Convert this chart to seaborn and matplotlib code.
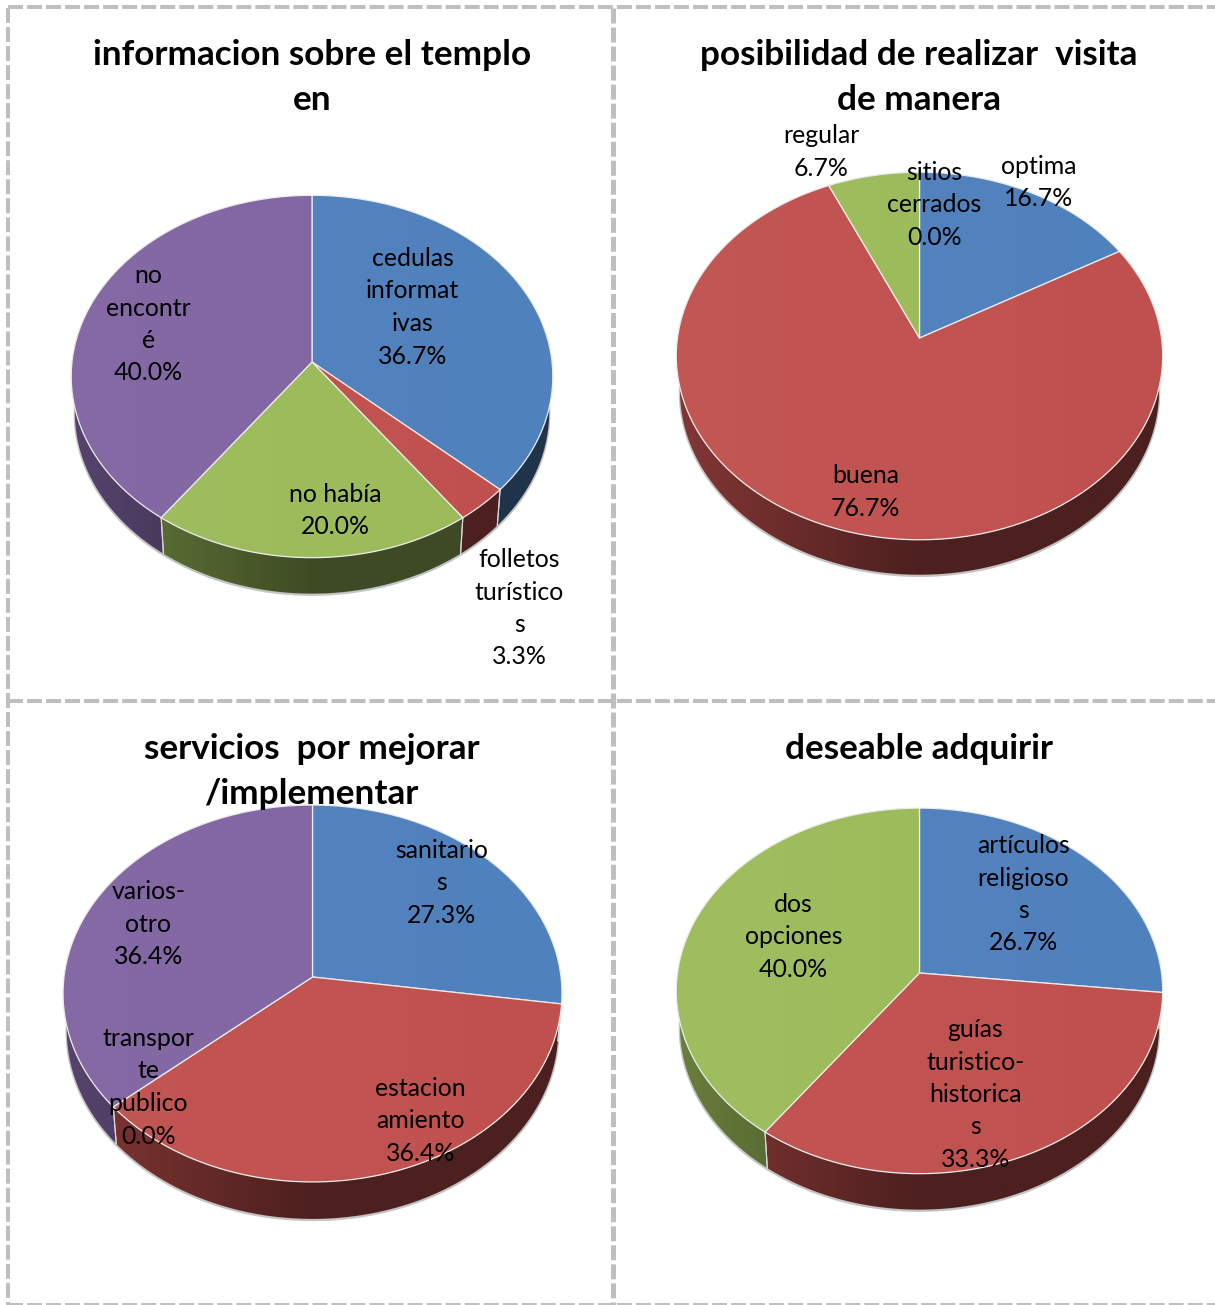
import matplotlib
matplotlib.use('Agg')
import matplotlib.pyplot as plt
import numpy as np
import seaborn as sns
from matplotlib.patches import Polygon

# values (percent, clockwise from 12 o'clock)
titles_1 = ["informacion sobre el templo", "en"]
labels_1 = ["cedulas\ninformat\nivas", "folletos\nturístico\ns", "no había", "no\nencontr\né"]
values_1 = [36.7, 3.3, 20.0, 40.0]

titles_2 = ["posibilidad de realizar  visita", "de manera"]
labels_2 = ["optima", "buena", "regular", "sitios\ncerrados"]
values_2 = [16.7, 76.7, 6.7, 0.0]

titles_3 = ["servicios  por mejorar", "/implementar"]
labels_3 = ["sanitario\ns", "estacion\namiento", "transpor\nte\npublico", "varios-\notro"]
values_3 = [27.3, 36.4, 0.0, 36.4]

titles_4 = ["deseable adquirir"]
labels_4 = ["artículos\nreligioso\ns", "guías\nturistico-\nhistorica\ns", "dos\nopciones"]
values_4 = [26.7, 33.3, 40.0]

sns.set_theme(style='white')
plt.rcParams['font.family'] = ['Lato', 'DejaVu Sans']
palette = sns.color_palette(["#4F81BD", "#C0504D", "#9BBB59", "#8064A2"])

W, H = 1215, 1305
LABEL_PT = 17.9
TITLE_PT = 25.3

fig = plt.figure(figsize=(W / 100, H / 100), dpi=100)
ax = fig.add_axes([0, 0, 1, 1])


def project(theta, cx, cy, rx, ry, k):
    # circle seen in perspective, theta clockwise from the top
    xs, ys = np.sin(theta), np.cos(theta)
    d = 1 + k * ys
    return cx + rx * xs / d, cy - ry * ys / d


def draw_pie(values, cx, cy, rx, ry, k, depth):
    values = np.array(values, dtype=float)
    edges = np.concatenate([[0], np.cumsum(values)]) / values.sum() * 2 * np.pi

    # soft outline below the wall
    t = np.linspace(0, 2 * np.pi, 300)
    ex, ey = project(t, cx, cy, rx, ry, k)
    ax.plot(cx + (ex - cx) * 0.985, ey + depth + 1, color='#c4c4c4', lw=1.8, zorder=1)

    # horizontal shading of the side wall: light at the left, flat dark from the middle on
    ramp = np.clip(np.linspace(0, 1, 512) / 0.5, 0, 1)

    for i in range(len(values)):
        if values[i] == 0:
            continue
        a = np.linspace(edges[i], edges[i + 1], 200)
        px, py = project(a, cx, cy, rx, ry, k)
        qx, qy = cx + (px - cx) * 0.985, py + depth
        wall = np.column_stack([np.r_[px, qx[::-1]], np.r_[py, qy[::-1]]])
        light = 0.45 if i == 0 else 0.68
        factor = light + (0.40 - light) * ramp
        img = np.ones((1, 512, 4))
        img[..., :3] = np.outer(factor, palette[i])[None, :, :]
        im = ax.imshow(img, extent=[cx - rx, cx + rx, cy + ry + depth + 40, cy - ry - 40],
                       aspect='auto', zorder=2, interpolation='bilinear')
        im.set_clip_path(Polygon(wall, closed=True, transform=ax.transData))
        # light seam where a slice starts or stops on the front
        for e in (0, -1):
            if np.cos(a[e]) < 0:
                ax.plot([px[e], qx[e]], [py[e], qy[e]], color='#d9d9d9', lw=0.8, zorder=3)

    # top faces
    for i in range(len(values)):
        if values[i] == 0:
            continue
        a = np.linspace(edges[i], edges[i + 1], 200)
        px, py = project(a, cx, cy, rx, ry, k)
        pts = np.column_stack([np.r_[cx, px], np.r_[cy, py]])
        ax.add_patch(Polygon(pts, closed=True, fc=palette[i], ec='#ececec', lw=0.9, zorder=4,
                             joinstyle='round'))
        # faint sheen from the left
        grad = np.ones((1, 512, 4))
        grad[..., 3] = np.linspace(0.04, 0, 512)
        im = ax.imshow(grad, extent=[cx - rx, cx + rx, cy + ry + 40, cy - ry - 40], aspect='auto',
                       zorder=5, interpolation='bilinear')
        im.set_clip_path(Polygon(pts, closed=True, transform=ax.transData))


def draw_text(lines, x, y, size, spacing, weight='normal'):
    for n, line in enumerate(lines):
        ax.text(x, y + n * spacing, line, ha='center', va='baseline', fontsize=size,
                fontweight=weight, color='black', zorder=8)


def draw_label(label, value, x, y):
    draw_text(label.split("\n") + [f"{value:.1f}%"], x + 0.5, y + 1, LABEL_PT, 32.5)


# frame of dashed grey lines, one per panel edge
for fx, width in ((8, 2.9), (613, 3.6)):
    ax.plot([fx, fx], [8, 1305], color='#bfbfbf', lw=width, dashes=(10.8 / width, 2.9 / width), zorder=0)
for fy, width in ((7, 2.9), (701, 2.9), (1304, 1.4)):
    ax.plot([8, 1215], [fy, fy], color='#bfbfbf', lw=width, dashes=(10.8 / width, 2.9 / width), zorder=0)

draw_pie(values_1, 312, 362, 240, 180, 0.08, 36)
draw_pie(values_2, 919.5, 338, 242, 182, 0.098, 35)
draw_pie(values_3, 312.5, 977, 248.5, 187, 0.0875, 37)
draw_pie(values_4, 919.5, 973, 242, 181, 0.098, 36)

draw_text(titles_1, 312, 65, TITLE_PT, 45, 'bold')
draw_text(titles_2, 919, 65, TITLE_PT, 45, 'bold')
draw_text(titles_3, 312, 759, TITLE_PT, 45.5, 'bold')
draw_text(titles_4, 919, 759, TITLE_PT, 45, 'bold')

for lab, val, x, y in zip(labels_1, values_1, [412, 519, 335, 148], [265, 566, 501, 282]):
    draw_label(lab, val, x, y)
for lab, val, x, y in zip(labels_2, values_2, [1038, 865, 821, 934], [173, 482, 142, 179]):
    draw_label(lab, val, x, y)
for lab, val, x, y in zip(labels_3, values_3, [441, 420, 148, 148], [857, 1095, 1045, 898]):
    draw_label(lab, val, x, y)
for lab, val, x, y in zip(labels_4, values_4, [1023, 975, 793], [852, 1036, 911]):
    draw_label(lab, val, x, y)

ax.set_xlim(0, W)
ax.set_ylim(H, 0)
ax.axis('off')
fig.savefig('out.png', dpi=100, facecolor='white')
